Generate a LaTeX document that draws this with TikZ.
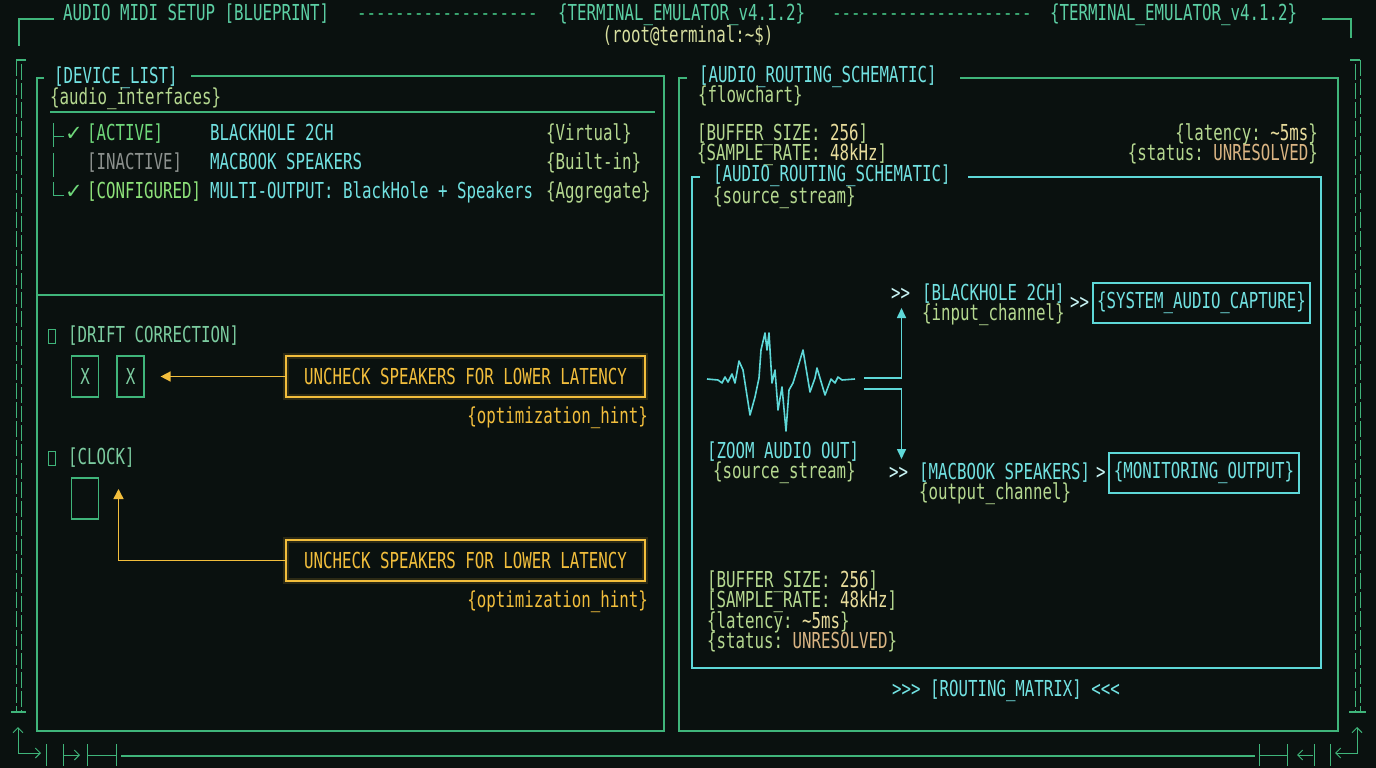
\documentclass[tikz,border=0pt]{standalone}
\usepackage{fontspec}
\setmonofont[FakeStretch=0.717]{DejaVu Sans Mono}
\newfontfamily\symfont{DejaVu Sans}
\usepackage{tikz}
\usetikzlibrary{arrows.meta, positioning}

\definecolor{bg}{HTML}{0A110F}
\definecolor{frame}{HTML}{3FB57A}
\definecolor{titlegreen}{HTML}{5CCFA4}
\definecolor{cyanline}{HTML}{5ED8D8}
\definecolor{cyantext}{HTML}{72E2E2}
\definecolor{brightcyan}{HTML}{C8F4F4}
\definecolor{pale}{HTML}{B5D890}
\definecolor{paleyellow}{HTML}{D8DFA0}
\definecolor{amber}{HTML}{F2BE3C}
\definecolor{numyellow}{HTML}{E8DC9C}
\definecolor{tan}{HTML}{D9B483}
\definecolor{dimgray}{HTML}{8C918E}
\definecolor{okgreen}{HTML}{6FD87A}
\definecolor{cfggreen}{HTML}{8EE27A}
\definecolor{optgreen}{HTML}{7CCCA0}

\begin{document}
\begin{tikzpicture}[x=1pt, y=-1pt, font=\ttfamily\fontsize{22}{25}\selectfont,
	txt/.style={anchor=west, inner sep=0pt, text height=16pt, text depth=4pt},
	rtxt/.style={txt, anchor=east},
	ctxt/.style={txt, anchor=center},
	frameline/.style={draw=frame, line width=1.3pt},
	rail/.style={draw=frame, line width=1pt, dash pattern=on 16pt off 3pt},
	cyanframe/.style={draw=cyanline, line width=1.6pt},
	hintbox/.style={draw=amber, line width=1.6pt, inner sep=0pt, minimum width=359pt,
		minimum height=41pt, text=amber, preaction={draw=amber, line width=6pt, opacity=0.15}},
	outbox/.style={draw=cyanline, line width=1.6pt, inner sep=0pt, minimum height=40pt, text=cyantext},
	chkbox/.style={draw=frame, line width=1.2pt, minimum width=27pt, minimum height=41pt,
		inner sep=0pt, text=optgreen},
	tofu/.style={draw=frame, line width=1pt, minimum width=7pt, minimum height=14pt, inner sep=0pt},
	hint/.style={-{Triangle[length=10pt,width=10pt]}, draw=amber, line width=1.6pt},
	flow/.style={-{Triangle[length=10pt,width=9pt]}, draw=cyanline, line width=1.6pt},
	tick/.style={draw=frame, line width=1pt},
	]
	\fill[bg] (0,0) rectangle (1376,768);
	\useasboundingbox (0,0) rectangle (1376,768);

	% header
	\node[txt, text=titlegreen] (title) at (63,15) {AUDIO MIDI SETUP [BLUEPRINT]};
	\node[txt, text=frame] (dasha) at (357,15) {-------------------};
	\node[txt, text=titlegreen] (terma) at (558,15) {\{TERMINAL\_EMULATOR\_v4.1.2\}};
	\node[txt, text=frame] (dashb) at (832,15) {---------------------};
	\node[txt, text=titlegreen] (termb) at (1050,15) {\{TERMINAL\_EMULATOR\_v4.1.2\}};
	\node[ctxt, text=paleyellow] (root) at (688,37) {(root@terminal:\textasciitilde\$)};
	\draw[frameline] (19,46) -- (19,19) -- (54,19);
	\draw[frameline] (1322,19) -- (1351,19) -- (1351,38);

	% side rails
	\draw[frameline] (26,60) -- (16,60);
	\draw[rail] (16,60) -- (16,712);
	\draw[rail] (21,64) -- (21,712);
	\draw[frameline] (11,712) -- (26,712);
	\draw[frameline] (1350,60) -- (1360,60);
	\draw[rail] (1360,60) -- (1360,712);
	\draw[rail] (1355,64) -- (1355,712);
	\draw[frameline] (1349,712) -- (1366,712);

	% footer
	\draw[tick, {Straight Barb[length=5pt]}-{Straight Barb[length=5pt]}] (18,727) -- (18,753) -- (41,753);
	\draw[tick] (46,744) -- (46,766) (63,744) -- (63,766) (87,744) -- (87,766) (116,744) -- (116,766);
	\draw[tick, -{Straight Barb[length=5pt]}] (63,755) -- (80,755);
	\draw[tick] (87,755) -- (116,755);
	\draw[frameline] (121,756) -- (1255,756);
	\draw[tick] (1259,744) -- (1259,766) (1287,744) -- (1287,766) (1314,744) -- (1314,766) (1330,744) -- (1330,766);
	\draw[tick] (1259,755) -- (1287,755);
	\draw[tick, -{Straight Barb[length=5pt]}] (1313,755) -- (1297,755);
	\draw[tick, {Straight Barb[length=5pt]}-{Straight Barb[length=5pt]}] (1357,727) -- (1357,753) -- (1335,753);

	% device list panel
	\draw[frameline] (44,78) -- (37,78) -- (37,731) -- (664,731) -- (664,76) -- (191,76);
	\draw[frameline] (37,295) -- (664,295);
	\node[txt, text=cyantext] (devlist) at (54,77) {[DEVICE\_LIST]};
	\node[txt, text=pale] (ifaces) at (50,98) {\{audio\_interfaces\}};
	\draw[frameline] (50,112) -- (655,112);

	\draw[tick] (53,123) -- (53,147) (53,136) -- (64,136);
	\draw[tick] (53,153) -- (53,177);
	\draw[tick] (53,182) -- (53,195) -- (64,195);
	\node[txt, text=okgreen] (cka) at (65,134) {\symfont\fontsize{21}{23}\selectfont ✓};
	\node[txt, text=okgreen] (ckc) at (65,192) {\symfont\fontsize{21}{23}\selectfont ✓};

	\node[txt, text=okgreen] (sta) at (87,134) {[ACTIVE]};
	\node[txt, text=cyantext] (deva) at (210,134) {BLACKHOLE 2CH};
	\node[txt, text=pale] (typa) at (546,134) {\{Virtual\}};
	\node[txt, text=dimgray] (stb) at (87,163) {[INACTIVE]};
	\node[txt, text=cyantext] (devb) at (210,163) {MACBOOK SPEAKERS};
	\node[txt, text=pale] (typb) at (546,163) {\{Built-in\}};
	\node[txt, text=cfggreen] (stc) at (87,192) {[CONFIGURED]};
	\node[txt, text=cyantext] (devc) at (210,192) {MULTI-OUTPUT: BlackHole + Speakers};
	\node[txt, text=pale] (typc) at (546,192) {\{Aggregate\}};

	% drift correction / clock
	\node[tofu] (tofua) at (51.5,336) {};
	\node[txt, text=optgreen] (drift) at (68,336) {[DRIFT CORRECTION]};
	\node[chkbox] (chka) at (85,376.5) {X};
	\node[chkbox] (chkb) at (130.5,376.5) {X};
	\node[hintbox] (hinta) at (465.5,376.5) {UNCHECK SPEAKERS FOR LOWER LATENCY};
	\node[rtxt, text=amber] (opta) at (648,417) {\{optimization\_hint\}};
	\draw[hint] (hinta) -- (chkb) [shorten >=16pt];

	\node[tofu] (tofub) at (51.5,458) {};
	\node[txt, text=optgreen] (clock) at (68,458) {[CLOCK]};
	\node[chkbox] (clk) at (85,498.5) {};
	\node[hintbox] (hintb) at (465.5,560.5) {UNCHECK SPEAKERS FOR LOWER LATENCY};
	\node[rtxt, text=amber] (optb) at (648,601) {\{optimization\_hint\}};
	\coordinate (clktip) at (118.5,489);
	\draw[hint] (hintb) -| (clktip);

	% routing panel
	\draw[frameline] (687,78) -- (679,78) -- (679,731) -- (1338,731) -- (1338,78) -- (960,78);
	\node[txt, text=cyantext] (routing) at (699,76) {[AUDIO\_ROUTING\_SCHEMATIC]};
	\node[txt, text=pale] (flowchart) at (698,96) {\{flowchart\}};
	\node[txt, text=pale] (bufa) at (697,134) {[BUFFER\_SIZE: \textcolor{numyellow}{256}]};
	\node[txt, text=pale] (ratea) at (697,154) {\{SAMPLE\_RATE: \textcolor{numyellow}{48kHz}]};
	\node[rtxt, text=pale] (lata) at (1318,134) {\{latency: \textcolor{numyellow}{\textasciitilde5ms}\}};
	\node[rtxt, text=pale] (stata) at (1318,154) {\{status: \textcolor{tan}{UNRESOLVED}\}};

	\draw[cyanframe] (700,177) -- (692,177) -- (692,668) -- (1321,668) -- (1321,177) -- (968,177);
	\node[txt, text=cyantext] (schem) at (713,175) {[AUDIO\_ROUTING\_SCHEMATIC]};
	\node[txt, text=pale] (srca) at (713,197) {\{source\_stream\}};

	% waveform
	\draw[cyanline, line width=1.6pt, line join=round] plot coordinates {
		(707,379) (718,380) (722,383) (725,377) (728,382) (732,374) (735,383) (739,361)
		(743,370) (750,415) (755,397) (759,378) (761,350) (765,333) (767,350) (769,333)
		(772,383) (775,370) (778,410) (782,387) (786,431) (789,390) (793,383) (797,370)
		(803,350) (808,380) (810,392) (815,378) (817,368) (825,395) (831,379) (835,383)
		(838,377) (842,380) (855,379)};
	\node[txt, text=cyantext] (zoom) at (707,452) {[ZOOM AUDIO OUT]};
	\node[txt, text=pale] (srcb) at (713,472) {\{source\_stream\}};

	\coordinate (wva) at (864,378);
	\coordinate (wvb) at (864,389);
	\coordinate (uptip) at (901.5,308);
	\coordinate (dntip) at (901.5,459);
	\draw[flow] (wva) -| (uptip);
	\draw[flow] (wvb) -| (dntip);

	\node[txt, text=brightcyan] (gta) at (891,294) {>>};
	\node[txt, text=cyantext] (bh) at (922,294) {[BLACKHOLE 2CH]};
	\node[txt, text=pale] (inch) at (922,314) {\{input\_channel\}};
	\node[txt, text=brightcyan] (gtb) at (1070,303) {>>};
	\node[outbox, minimum width=217pt] (cap) at (1201.5,303) {\{SYSTEM\_AUDIO\_CAPTURE\}};

	\node[txt, text=brightcyan] (gtc) at (889,473) {>>};
	\node[txt, text=cyantext] (mb) at (919,473) {[MACBOOK SPEAKERS]};
	\node[txt, text=pale] (outch) at (919,493) {\{output\_channel\}};
	\node[txt, text=brightcyan] (gtd) at (1096,473) {>};
	\node[outbox, minimum width=190pt] (mon) at (1204,473) {\{MONITORING\_OUTPUT\}};

	\node[txt, text=pale] (bufb) at (707,581) {[BUFFER\_SIZE: \textcolor{numyellow}{256}]};
	\node[txt, text=pale] (rateb) at (707,601) {[SAMPLE\_RATE: \textcolor{numyellow}{48kHz}]};
	\node[txt, text=pale] (latb) at (707,622) {\{latency: \textcolor{numyellow}{\textasciitilde5ms}\}};
	\node[txt, text=pale] (statb) at (707,642) {\{status: \textcolor{tan}{UNRESOLVED}\}};

	\node[ctxt, text=cyantext] (matrix) at (1006,690) {>>> [ROUTING\_MATRIX] <<<};
\end{tikzpicture}
\end{document}
